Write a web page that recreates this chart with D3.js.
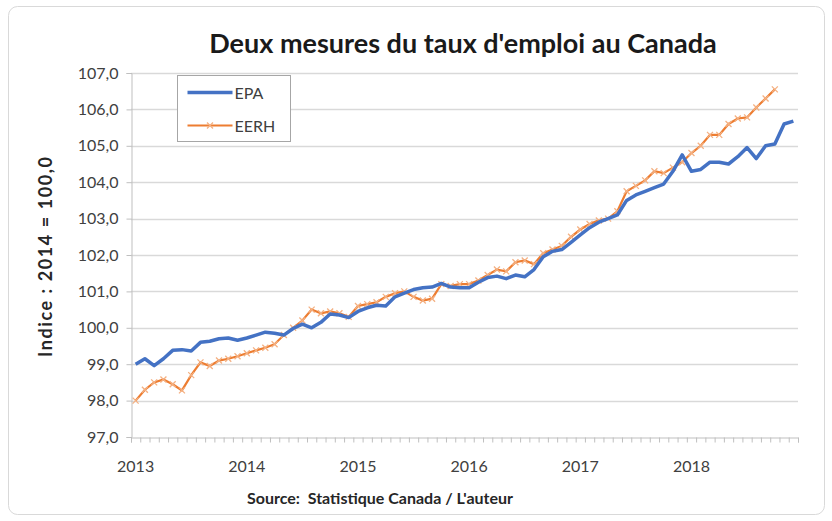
<!DOCTYPE html>
<html>
<head>
<meta charset="utf-8">
<script src="https://cdn.jsdelivr.net/npm/d3@7"></script>
<style>
  body { margin: 0; background: #fff; }
  svg { display: block; font-family: Lato, "Open Sans", sans-serif; }
</style>
</head>
<body>
<div class="container"></div>
<script>
const WIDTH = 832
const HEIGHT = 521

// monthly, Jan 2013 .. Dec 2018
const yearLabels = ['2013', '2014', '2015', '2016', '2017', '2018']
const yTicks = [97, 98, 99, 100, 101, 102, 103, 104, 105, 106, 107]

const epa = [
  99.0, 99.15, 98.96, 99.15, 99.38, 99.4, 99.36, 99.6, 99.63, 99.7, 99.72, 99.66,
  99.72, 99.8, 99.88, 99.85, 99.8, 99.98, 100.1, 100.0, 100.15, 100.38, 100.35, 100.28,
  100.45, 100.55, 100.62, 100.6, 100.85, 100.95, 101.05, 101.1, 101.12, 101.22, 101.12, 101.1,
  101.1, 101.25, 101.38, 101.42, 101.35, 101.45, 101.4, 101.6, 101.95, 102.1, 102.15, 102.35,
  102.55, 102.75, 102.9, 103.0, 103.1, 103.5, 103.65, 103.75, 103.85, 103.95, 104.3, 104.75,
  104.3, 104.35, 104.55, 104.55, 104.5, 104.7, 104.95, 104.65, 105.0, 105.05, 105.6, 105.68
]

// Jan 2013 .. Oct 2018
const eerh = [
  98.0, 98.3, 98.5, 98.58, 98.45, 98.28, 98.7, 99.05, 98.95, 99.1, 99.15, 99.22,
  99.3, 99.38, 99.45, 99.55, 99.8, 100.0, 100.2, 100.5, 100.4, 100.45, 100.4, 100.3,
  100.6, 100.65, 100.7, 100.85, 100.95, 101.0, 100.85, 100.75, 100.8, 101.2, 101.15, 101.2,
  101.2, 101.3, 101.45, 101.6, 101.55, 101.8, 101.85, 101.75, 102.05, 102.15, 102.25, 102.5,
  102.7, 102.85, 102.95, 103.0, 103.2, 103.75, 103.9, 104.05, 104.3, 104.25, 104.4, 104.55,
  104.8, 105.0, 105.3, 105.3, 105.6, 105.75, 105.78, 106.05, 106.3, 106.55
]

const seriesNames = ['EPA', 'EERH']
const seriesColors = ['#4472C4', '#ED7D31']

const nMonths = 72
const plot = { left: 131, right: 798, top: 73, bottom: 437 }

const svg = d3.select('.container').append('svg')
    .attr('width', WIDTH)
    .attr('height', HEIGHT)
    .attr('viewBox', `0 0 ${WIDTH} ${HEIGHT}`)

// chart frame
svg.append('rect')
    .attr('x', 8.5).attr('y', 6.5)
    .attr('width', 816).attr('height', 508)
    .attr('rx', 9)
    .attr('fill', '#fff')
    .attr('stroke', '#d9d9d9')

const x = d3.scaleLinear().domain([0, nMonths]).range([plot.left, plot.right])
const y = d3.scaleLinear().domain([97, 107]).range([plot.bottom, plot.top])

// gridlines
svg.append('g')
    .selectAll('line')
    .data(yTicks.slice(1))
    .join('line')
    .attr('x1', plot.left).attr('x2', plot.right)
    .attr('y1', d => Math.round(y(d)) + 0.5).attr('y2', d => Math.round(y(d)) + 0.5)
    .attr('stroke', '#d9d9d9')
    .attr('stroke-width', 1.3)

// y axis
const yAxis = svg.append('g')
    .attr('transform', `translate(${plot.left + 0.5},0)`)
    .call(d3.axisLeft(y).tickValues(yTicks).tickSize(5).tickPadding(8)
        .tickFormat(d => d3.format('.1f')(d).replace('.', ',')))
yAxis.select('.domain').attr('stroke', '#bfbfbf')
yAxis.selectAll('.tick line').attr('stroke', '#bfbfbf')
yAxis.selectAll('.tick text')
    .attr('font-family', 'Lato, sans-serif')
    .attr('font-size', 16)
    .attr('fill', '#404040')

// x axis: monthly tick marks, year labels centred on January
const xAxis = svg.append('g')
    .attr('transform', `translate(0,${Math.round(plot.bottom) + 0.5})`)
    .call(d3.axisBottom(x).tickValues(d3.range(0, nMonths + 1)).tickSize(5).tickFormat(''))
xAxis.select('.domain').attr('stroke', '#bfbfbf')
xAxis.selectAll('.tick line').attr('stroke', '#bfbfbf')

svg.append('g')
    .selectAll('text')
    .data(yearLabels)
    .join('text')
    .attr('x', (d, i) => x(i * 12 + 0.5))
    .attr('y', plot.bottom + 35)
    .attr('text-anchor', 'middle')
    .attr('font-size', 16)
    .attr('fill', '#404040')
    .text(d => d)

// lines
const line = d3.line()
    .x((d, i) => x(i + 0.5))
    .y(d => y(d))

svg.append('path')
    .datum(eerh)
    .attr('fill', 'none')
    .attr('stroke', seriesColors[1])
    .attr('stroke-width', 2.2)
    .attr('d', line)

svg.append('g')
    .selectAll('path')
    .data(eerh)
    .join('path')
    .attr('transform', (d, i) => `translate(${x(i + 0.5)},${y(d)})`)
    .attr('d', 'M-3,-3L3,3M-3,3L3,-3')
    .attr('stroke', '#F4B183')
    .attr('stroke-width', 1.3)

svg.append('path')
    .datum(epa)
    .attr('fill', 'none')
    .attr('stroke', seriesColors[0])
    .attr('stroke-width', 3.5)
    .attr('stroke-linejoin', 'round')
    .attr('d', line)

// legend
const legend = svg.append('g').attr('transform', 'translate(177.5,75.5)')
legend.append('rect')
    .attr('width', 113).attr('height', 66)
    .attr('fill', '#fff')
    .attr('stroke', '#a6a6a6')

seriesNames.forEach((name, i) => {
    const row = legend.append('g').attr('transform', `translate(10,${17 + i * 33})`)
    row.append('line')
        .attr('x1', 0).attr('x2', 45)
        .attr('stroke', seriesColors[i])
        .attr('stroke-width', i === 0 ? 3.5 : 2.2)
    if (i === 1) {
        row.append('path')
            .attr('transform', 'translate(22.5,0)')
            .attr('d', 'M-3,-3L3,3M-3,3L3,-3')
            .attr('stroke', '#F4B183')
            .attr('stroke-width', 1.3)
    }
    row.append('text')
        .attr('x', 47).attr('y', 6)
        .attr('font-size', 16)
        .attr('fill', '#404040')
        .text(name)
})

// titles
svg.append('text')
    .attr('x', 463).attr('y', 53)
    .attr('text-anchor', 'middle')
    .attr('font-size', 27)
    .attr('font-weight', 'bold')
    .attr('fill', '#1a1a1a')
    .text("Deux mesures du taux d'emploi au Canada")

svg.append('text')
    .attr('transform', `translate(52,${(plot.top + plot.bottom) / 2 + 2}) rotate(-90)`)
    .attr('text-anchor', 'middle')
    .attr('font-size', 18)
    .attr('font-weight', 'bold')
    .attr('fill', '#262626')
    .attr('textLength', 200)
    .text('Indice : 2014 = 100,0')

svg.append('text')
    .attr('x', 380).attr('y', 504)
    .attr('text-anchor', 'middle')
    .attr('font-size', 16)
    .attr('font-weight', 'bold')
    .attr('fill', '#262626')
    .attr('xml:space', 'preserve')
    .text('Source:  Statistique Canada / L\'auteur')
</script>
</body>
</html>
